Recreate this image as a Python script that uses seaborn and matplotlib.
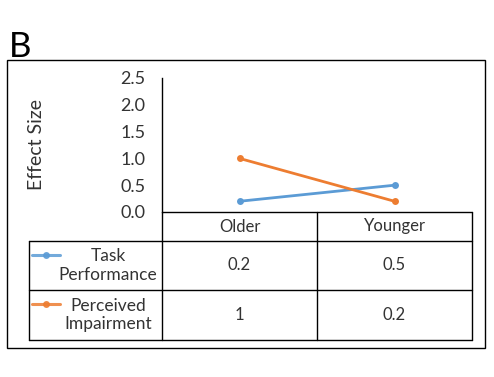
import matplotlib
matplotlib.use("Agg")
import matplotlib.pyplot as plt
import matplotlib.patches as mpatches
import pandas as pd
import seaborn as sns

groups = ["Older", "Younger"]
series = ["Task\nPerformance", "Perceived\nImpairment"]
task_performance = [0.2, 0.5]
perceived_impairment = [1, 0.2]
table_labels = [["0.2", "0.5"], ["1", "0.2"]]
y_ticks = [0.0, 0.5, 1.0, 1.5, 2.0, 2.5]
colors = ["#5B9BD5", "#ED7D31"]

df = pd.DataFrame({
    "group": groups * 2,
    "pos": [0, 1, 0, 1],
    "value": task_performance + perceived_impairment,
    "series": [series[0]] * 2 + [series[1]] * 2,
})

sns.set_style("white")
plt.rcParams["font.family"] = ["Lato", "DejaVu Sans"]
txt = "#333333"

W, H = 494, 377
fig = plt.figure(figsize=(W / 100, H / 100), dpi=100)


def fx(px):
    return px / W


def fy(py):
    return 1 - py / H


# outer frame
fig.patches.append(mpatches.Rectangle((fx(7), fy(348)), fx(485) - fx(7), fy(60) - fy(348),
                                      transform=fig.transFigure, fill=False, edgecolor="black", lw=1))
fig.text(fx(9), fy(57), "B", fontsize=25, ha="left", va="baseline", color="black")

# plot area
left, right, top, bottom = 162, 472, 78, 212
ax = fig.add_axes([fx(left), fy(bottom), fx(right) - fx(left), fy(top) - fy(bottom)])
sns.lineplot(data=df, x="pos", y="value", hue="series", palette=colors, marker="o",
             markersize=5, markeredgewidth=0, linewidth=2.0, legend=False, ax=ax)
ax.set_xlim(-0.5, 1.5)
ax.set_ylim(0, 2.5)
ax.set_yticks(y_ticks)
ax.set_yticklabels([f"{v:.1f}" for v in y_ticks], fontsize=13, color=txt)
ax.set_xticks([])
ax.set_xlabel("")
ax.set_ylabel("")
for s in ["top", "right", "bottom"]:
    ax.spines[s].set_visible(False)
ax.spines["left"].set_linewidth(1)
ax.spines["left"].set_color("black")
ax.tick_params(axis="y", length=0, pad=12)
fig.text(fx(37), fy(145), "Effect Size", rotation=90, ha="center", va="center",
         fontsize=14, color=txt)

# data table
tab = fig.add_axes([0, 0, 1, 1], facecolor="none")
tab.set_xlim(0, W)
tab.set_ylim(H, 0)
tab.axis("off")
col_x = [left, 317, right]
row_y = [bottom, 241, 290, 340]
leg_x = 29
kw = dict(color="black", lw=1)
tab.plot([left, right], [row_y[0], row_y[0]], **kw)
for yy in row_y[1:]:
    tab.plot([leg_x, right], [yy, yy], **kw)
tab.plot([leg_x, leg_x], [row_y[1], row_y[3]], **kw)
for xx in col_x:
    tab.plot([xx, xx], [row_y[0], row_y[3]], **kw)

for j, g in enumerate(groups):
    tab.text((col_x[j] + col_x[j + 1]) / 2, (row_y[0] + row_y[1]) / 2, g,
             ha="center", va="center", fontsize=12, color=txt)
for i, name in enumerate(series):
    yc = (row_y[i + 1] + row_y[i + 2]) / 2
    tab.plot([32, 60], [yc - 11, yc - 11], color=colors[i], lw=2.2, alpha=0.85)
    tab.plot([46], [yc - 11], "o", color=colors[i], ms=4, alpha=0.85)
    tab.text(108, yc, name, ha="center", va="center", fontsize=12.5, color=txt,
             linespacing=1.2)
    for j in range(2):
        tab.text((col_x[j] + col_x[j + 1]) / 2, yc, table_labels[i][j],
                 ha="center", va="center", fontsize=12, color=txt)

fig.savefig("out.png", dpi=100)
